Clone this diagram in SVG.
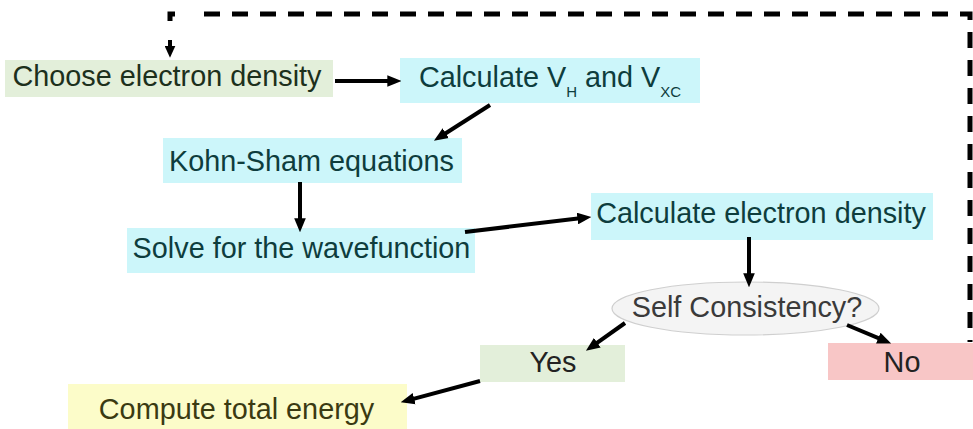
<svg xmlns="http://www.w3.org/2000/svg" width="973" height="429" viewBox="0 0 973 429">
  <style>
    text { font-family: "Liberation Sans", Arial, sans-serif; font-size: 28.8px; text-anchor: middle; }
    .green { fill: #e3efda; }
    .cyan { fill: #ccf6fa; }
    .yellow { fill: #fcfcc9; }
    .red { fill: #f8c6c6; }
    .tcyan { fill: #0e3d3d; }
    .tgreen { fill: #1d301c; }
    .tyellow { fill: #3a3a12; }
    .tdark { fill: #222222; }
    .arrow { stroke: #000; stroke-width: 4; fill: none; marker-end: url(#head); }
    .dash { stroke: #000; stroke-width: 5; fill: none; }
  </style>
  <defs>
    <marker id="head" markerUnits="userSpaceOnUse" markerWidth="14" markerHeight="12" refX="4" refY="5" orient="auto" viewBox="0 0 12 10">
      <path d="M0,0 L12,5 L0,10 z" fill="#000"/>
    </marker>
    <marker id="dhead" markerUnits="userSpaceOnUse" markerWidth="12" markerHeight="11" refX="3" refY="5" orient="auto" viewBox="0 0 11 10">
      <path d="M0,0 L11,5 L0,10 z" fill="#000"/>
    </marker>
  </defs>

  <g id="choose">
    <rect class="green" x="5" y="60" width="328" height="37"/>
    <text class="tgreen" x="167" y="86">Choose electron density</text>
  </g>
  <g id="calcV">
    <rect class="cyan" x="400" y="58" width="300" height="45"/>
    <text class="tcyan" x="550" y="87">Calculate V<tspan font-size="15" dy="10">H</tspan><tspan dy="-10"> and V</tspan><tspan font-size="15" dy="10">XC</tspan></text>
  </g>
  <g id="kohnsham">
    <rect class="cyan" x="163" y="138" width="299" height="45"/>
    <text class="tcyan" x="311.5" y="171">Kohn-Sham equations</text>
  </g>
  <g id="solve">
    <rect class="cyan" x="127" y="228" width="348" height="45"/>
    <text class="tcyan" x="301.5" y="258">Solve for the wavefunction</text>
  </g>
  <g id="calcdensity">
    <rect class="cyan" x="591" y="193" width="342" height="47"/>
    <text class="tcyan" x="761" y="223">Calculate electron density</text>
  </g>
  <g id="selfconsistency">
    <ellipse cx="745.5" cy="308.5" rx="133.5" ry="26.5" fill="#f4f4f4" stroke="#cfcfcf" stroke-width="1.2"/>
    <text fill="#3a3a3a" x="747" y="317">Self Consistency?</text>
  </g>
  <g id="yes">
    <rect class="green" x="480" y="345" width="145" height="37"/>
    <text class="tdark" x="553" y="372">Yes</text>
  </g>
  <g id="no">
    <rect class="red" x="828" y="343" width="145" height="37"/>
    <text class="tdark" x="902" y="372">No</text>
  </g>
  <g id="compute">
    <rect class="yellow" x="68" y="384" width="339" height="45"/>
    <text class="tyellow" x="236.5" y="419">Compute total energy</text>
  </g>

  <g id="connectors">
    <line class="arrow" x1="335" y1="81" x2="392" y2="81"/>
    <line class="arrow" x1="490" y1="105" x2="441.8" y2="135.7"/>
    <line class="arrow" x1="300" y1="182" x2="300" y2="223"/>
    <line class="arrow" x1="465" y1="232" x2="582.1" y2="218"/>
    <line class="arrow" x1="749" y1="237" x2="749" y2="278"/>
    <line class="arrow" x1="625" y1="323" x2="593.5" y2="345.4"/>
    <line class="arrow" x1="847" y1="325" x2="882.6" y2="339.9"/>
    <line class="arrow" x1="480" y1="381" x2="409.7" y2="399.9"/>
    <path class="dash" d="M970,342 V14 H200" stroke-dasharray="16 12" stroke-dashoffset="14"/>
    <path class="dash" d="M170,21 V14 H175"/>
    <line x1="170" y1="40" x2="170" y2="49" stroke="#000" stroke-width="4" marker-end="url(#dhead)"/>
  </g>
</svg>
